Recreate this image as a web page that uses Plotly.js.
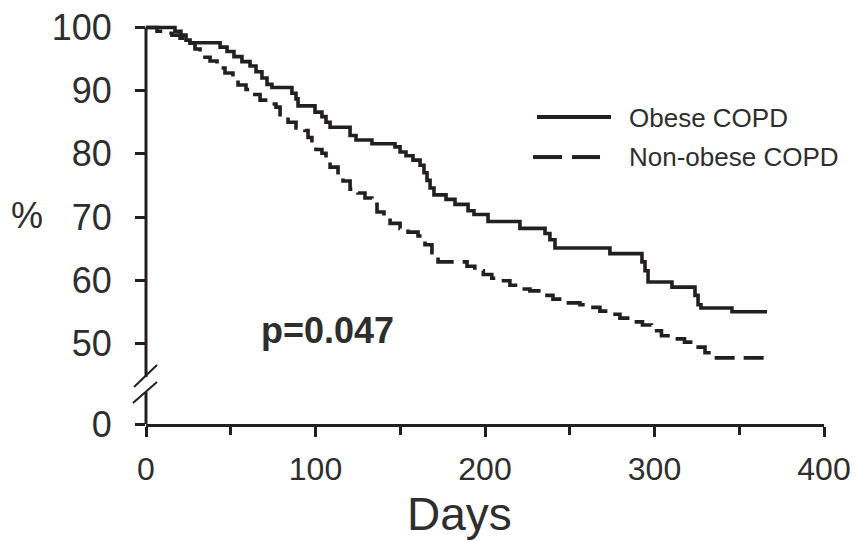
<!DOCTYPE html>
<html>
<head>
<meta charset="utf-8">
<script src="https://cdn.plot.ly/plotly-3.0.1.min.js"></script>
<style>
  html, body { margin: 0; padding: 0; background: #fff; }
  #chart { width: 857px; height: 541px; }
</style>
</head>
<body>
<div id="chart"></div>
<script>
// ---- data (Kaplan-Meier steps) ----
const obeseDays = [0, 17.1, 20.6, 23.6, 26.0, 43.7, 47.8, 51.9, 56.6, 61.4, 64.9, 68.4, 71.4, 74.3, 86.1, 88.5, 89.7, 99.7, 103.8, 106.2, 108.6, 120.4, 123.9, 133.3, 146.9, 149.9, 153.4, 157.5, 161.7, 164.0, 165.8, 167.6, 169.9, 177.0, 182.3, 190.0, 193.5, 201.8, 220.6, 235.4, 238.3, 241.3, 273.7, 292.6, 294.4, 296.2, 310.3, 323.9, 325.7, 327.4, 345.7, 366.4];
const obeseSurv = [100, 99.4, 98.8, 98.0, 97.6, 96.9, 96.2, 95.4, 94.6, 93.9, 93.0, 92.0, 91.0, 90.5, 89.6, 88.7, 87.6, 86.6, 85.9, 85.0, 84.2, 82.9, 82.2, 81.6, 81.1, 80.3, 79.7, 79.0, 78.2, 77.0, 75.8, 74.6, 73.5, 72.8, 72.0, 71.0, 70.4, 69.3, 68.2, 67.4, 66.4, 65.1, 64.2, 62.9, 61.5, 59.7, 58.9, 57.6, 56.1, 55.6, 55.0, 55.0];

const nonObeseDays = [0, 6.5, 11.2, 15.3, 20.1, 24.8, 28.9, 31.9, 34.8, 37.8, 41.9, 46.6, 51.3, 54.3, 59.0, 63.1, 67.3, 72.0, 76.7, 79.1, 83.8, 88.5, 93.8, 95.6, 97.9, 100.3, 103.8, 106.2, 108.6, 113.3, 116.2, 120.4, 125.1, 129.2, 133.3, 136.3, 140.4, 144.0, 149.9, 154.6, 160.5, 164.6, 168.7, 172.3, 189.4, 194.0, 199.0, 204.0, 208.8, 214.7, 220.6, 226.5, 235.4, 240.1, 247.2, 256.0, 261.9, 267.8, 273.7, 279.6, 285.5, 292.9, 298.2, 304.1, 310.0, 317.7, 323.9, 329.8, 333.9, 366.4];
const nonObeseSurv = [100, 99.4, 99.1, 98.8, 98.3, 97.5, 96.6, 95.9, 95.3, 94.7, 93.6, 92.8, 91.8, 90.9, 90.2, 89.4, 88.5, 87.9, 87.4, 85.8, 85.0, 84.1, 83.7, 82.6, 81.7, 80.7, 80.1, 79.0, 77.9, 76.6, 75.7, 74.4, 73.8, 73.0, 72.0, 70.8, 69.8, 69.0, 68.2, 67.6, 67.0, 65.6, 64.0, 62.9, 62.2, 61.5, 60.9, 60.3, 59.9, 59.2, 58.6, 58.3, 57.6, 57.0, 56.4, 56.1, 55.7, 55.1, 54.6, 54.0, 53.4, 52.9, 52.0, 51.2, 50.7, 50.2, 49.4, 48.5, 47.7, 47.7];

const seriesNames = ['Obese COPD', 'Non-obese COPD'];
const xTickVals = [0, 100, 200, 300, 400];
const yTickText = ['0', '50', '60', '70', '80', '90', '100'];
const pText = 'p=0.047';

// ---- layout helpers (broken axis: "0" sits below the break) ----
const ZERO_POS = 37.23;
const yTickVals = [ZERO_POS, 50, 60, 70, 80, 90, 100];
const INK = '#231f20';
const TXT = '#2e2e2e';
const FONT = 'Liberation Sans, Arial, sans-serif';

const traces = [
  { x: obeseDays, y: obeseSurv, name: seriesNames[0], mode: 'lines',
    line: { shape: 'hv', color: INK, width: 3.6 }, showlegend: false, hoverinfo: 'skip' },
  { x: nonObeseDays, y: nonObeseSurv, name: seriesNames[1], mode: 'lines',
    line: { shape: 'hv', color: INK, width: 3.6, dash: '20px,9px' }, showlegend: false, hoverinfo: 'skip' }
];

const shapes = [
  // y axis line, broken
  { type: 'line', xref: 'paper', yref: 'y', x0: 0, x1: 0, y0: 100, y1: 44.67, line: { color: INK, width: 3 } },
  { type: 'line', xref: 'paper', yref: 'y', x0: 0, x1: 0, y0: 42.29, y1: ZERO_POS, line: { color: INK, width: 3 } },
  // break slashes
  { type: 'line', xref: 'paper', yref: 'y', x0: -0.0177, x1: 0.0162, y0: 43.08, y1: 46.57, line: { color: INK, width: 2 } },
  { type: 'line', xref: 'paper', yref: 'y', x0: -0.0192, x1: 0.0162, y0: 40.55, y1: 43.88, line: { color: INK, width: 2 } },
  // legend samples
  { type: 'line', xref: 'paper', yref: 'paper', x0: 0.5767, x1: 0.6858, y0: 0.7694, y1: 0.7694, line: { color: INK, width: 4 } },
  { type: 'line', xref: 'paper', yref: 'paper', x0: 0.5708, x1: 0.6136, y0: 0.669, y1: 0.669, line: { color: INK, width: 4 } },
  { type: 'line', xref: 'paper', yref: 'paper', x0: 0.6283, x1: 0.6696, y0: 0.669, y1: 0.669, line: { color: INK, width: 4 } }
];

const annotations = [
  { text: seriesNames[0], xref: 'paper', yref: 'paper', x: 0.709, y: 0.767, xanchor: 'left', yanchor: 'middle',
    showarrow: false, font: { family: FONT, size: 26, color: TXT } },
  { text: seriesNames[1], xref: 'paper', yref: 'paper', x: 0.709, y: 0.669, xanchor: 'left', yanchor: 'middle',
    showarrow: false, font: { family: FONT, size: 26, color: TXT } },
  { text: '<b>' + pText + '</b>', xref: 'x', yref: 'y', x: 106.8, y: 52.0, xanchor: 'center', yanchor: 'middle',
    showarrow: false, font: { family: FONT, size: 36, color: TXT } },
  { text: '%', xref: 'paper', yref: 'y', x: -0.1755, y: 70.3, xanchor: 'center', yanchor: 'middle',
    showarrow: false, font: { family: FONT, size: 36, color: TXT } },
  { text: 'Days', xref: 'x', yref: 'paper', x: 185, y: -0.225, xanchor: 'center', yanchor: 'middle',
    showarrow: false, borderpad: 0, font: { family: FONT, size: 46, color: TXT } }
];

const layout = {
  width: 857, height: 541,
  margin: { l: 146, r: 33, t: 25, b: 117, pad: 0 },
  paper_bgcolor: '#ffffff', plot_bgcolor: '#ffffff',
  showlegend: false,
  xaxis: {
    range: [0, 400], tickvals: xTickVals, ticks: 'outside', ticklen: 10, tickwidth: 3, tickcolor: INK,
    minor: { dtick: 50, tick0: 0, ticks: 'outside', ticklen: 8, tickwidth: 3, tickcolor: INK, showgrid: false },
    showline: true, linewidth: 3, linecolor: INK, showgrid: false, zeroline: false,
    tickfont: { family: FONT, size: 32, color: TXT }, ticklabelstandoff: 5, fixedrange: true
  },
  yaxis: {
    range: [ZERO_POS, 100.4], tickvals: yTickVals, ticktext: yTickText,
    ticks: 'outside', ticklen: 10, tickwidth: 3, tickcolor: INK,
    showline: false, showgrid: false, zeroline: false,
    tickfont: { family: FONT, size: 36, color: TXT }, ticklabelstandoff: 16, fixedrange: true
  },
  shapes: shapes,
  annotations: annotations
};

Plotly.newPlot('chart', traces, layout, { displayModeBar: false, staticPlot: true });
</script>
</body>
</html>
